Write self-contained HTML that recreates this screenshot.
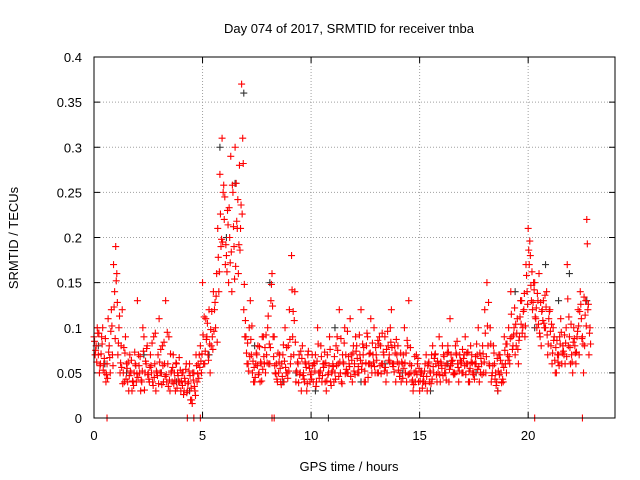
<!DOCTYPE html>
<html><head><meta charset="utf-8"><style>
body{margin:0;background:#fff;}
svg{display:block;font-family:"Liberation Sans",sans-serif;}
</style></head><body>
<svg id="chart" width="640" height="480" viewBox="0 0 640 480" xmlns="http://www.w3.org/2000/svg">
<rect width="640" height="480" fill="#fff"/>
<text x="349" y="33" font-size="13" text-anchor="middle">Day 074 of 2017, SRMTID for receiver tnba</text>
<text x="349" y="471" font-size="13" text-anchor="middle">GPS time / hours</text>
<text transform="translate(18,238) rotate(-90)" font-size="13" text-anchor="middle">SRMTID / TECUs</text>
<g id="grid"></g>
<g id="ticks"></g>
<g id="marks"></g>
<rect x="94" y="57" width="521" height="361" fill="none" stroke="#000" stroke-width="1"/>
</svg>
<script>
const xTicks=[0,5,10,15,20];
const yTicks=[0,0.05,0.1,0.15,0.2,0.25,0.3,0.35,0.4];
const yTickLabels=["0","0.05","0.1","0.15","0.2","0.25","0.3","0.35","0.4"];
const seriesA=[.09,.08,.07,.06,.10,.05,.06,.08,.12,.17,
.19,.07,.05,.12,.04,.06,.03,.05,.04,.06,
.13,.05,.04,.09,.06,.05,.07,.04,.06,.05,
.11,.05,.04,.13,.06,.03,.04,.05,.06,.04,
.03,.05,.04,.03,.06,.02,.05,.07,.06,.08,
.15,.06,.09,.12,.08,.14,.10,.21,.27,.31,
.22,.18,.15,.29,.25,.30,.21,.28,.37,.12,
.09,.06,.13,.05,.04,.07,.05,.06,.09,.05,
.10,.06,.16,.09,.06,.05,.04,.07,.10,.05,
.12,.18,.07,.04,.06,.05,.08,.04,.03,.06,
.05,.04,.07,.10,.05,.04,.06,.03,.05,.04,
.06,.05,.09,.12,.04,.06,.07,.05,.11,.04,
.06,.08,.05,.12,.07,.04,.09,.06,.05,.10,
.07,.05,.08,.06,.09,.05,.07,.12,.06,.04,
.08,.05,.06,.10,.04,.13,.05,.03,.04,.06,
.03,.05,.04,.07,.06,.05,.08,.07,.04,.09,
.06,.07,.05,.08,.11,.06,.05,.07,.04,.06,
.05,.09,.06,.04,.07,.05,.06,.10,.05,.08,
.12,.15,.06,.04,.08,.05,.03,.07,.06,.09,
.05,.10,.14,.08,.07,.11,.09,.13,.12,.17,
.21,.18,.12,.15,.10,.16,.08,.13,.10,.07,
.12,.06,.09,.05,.07,.11,.08,.06,.17,.09,
.07,.10,.06,.12,.14,.09,.08,.22,.07];
const seriesB=[.07,.10,.05,.09,.06,.04,.11,.05,.07,.14,
.16,.10,.08,.05,.09,.04,.07,.03,.05,.04,
.07,.03,.10,.05,.08,.04,.05,.09,.03,.07,
.05,.08,.06,.04,.09,.05,.07,.03,.05,.04,
.05,.03,.06,.04,.02,.05,.03,.04,.07,.05,
.06,.11,.07,.05,.09,.12,.16,.14,.19,.25,
.17,.23,.20,.14,.19,.26,.16,.21,.31,.09,
.06,.10,.07,.04,.06,.08,.04,.09,.06,.07,
.06,.13,.09,.05,.04,.07,.06,.04,.05,.08,
.06,.09,.14,.05,.07,.03,.05,.06,.07,.04,
.07,.06,.04,.05,.08,.06,.04,.07,.09,.05,
.04,.08,.06,.05,.07,.10,.05,.06,.07,.08,
.09,.05,.07,.06,.04,.08,.06,.11,.07,.05,
.05,.09,.06,.07,.04,.08,.10,.06,.08,.07,
.06,.04,.07,.05,.08,.06,.04,.05,.07,.04,
.05,.04,.06,.03,.04,.07,.05,.06,.05,.04,
.08,.05,.06,.04,.07,.05,.08,.06,.07,.05,
.07,.06,.04,.08,.05,.06,.07,.04,.06,.05,
.05,.08,.10,.05,.06,.04,.07,.05,.04,.06,
.07,.06,.09,.10,.08,.06,.13,.10,.09,.14,
.17,.13,.15,.11,.13,.09,.12,.10,.14,.11,
.08,.10,.05,.07,.09,.06,.07,.10,.08,.06,
.05,.08,.09,.07,.11,.05,.13,.12,.10];
const seriesC=[.085,.062,.094,.071,.053,.088,.044,.067,.102,.123,
.152,.083,.061,.038,.072,.055,.047,.064,.036,.058,
.045,.068,.052,.031,.077,.043,.058,.036,.094,.047,
.062,.037,.084,.048,.035,.071,.056,.042,.033,.067,
.041,.026,.054,.038,.047,.016,.035,.058,.044,.063,
.092,.074,.105,.082,.118,.096,.135,.178,.226,.195,
.245,.162,.233,.184,.212,.168,.242,.186,.226,.148,
.072,.052,.087,.063,.045,.058,.079,.041,.068,.092,
.113,.078,.124,.058,.043,.062,.037,.081,.056,.044,
.087,.142,.108,.052,.039,.074,.047,.062,.038,.055,
.043,.061,.035,.082,.052,.047,.073,.041,.058,.036,
.057,.043,.075,.062,.038,.083,.054,.068,.046,.072,
.048,.066,.092,.054,.078,.061,.045,.072,.083,.057,
.064,.082,.049,.073,.056,.096,.062,.078,.051,.087,
.053,.072,.044,.061,.086,.049,.058,.037,.052,.066,
.041,.033,.052,.046,.062,.038,.057,.071,.063,.048,
.055,.068,.042,.073,.058,.064,.049,.085,.052,.062,
.066,.048,.073,.055,.061,.043,.082,.057,.066,.071,
.094,.102,.058,.047,.072,.036,.052,.064,.043,.075,
.082,.068,.115,.092,.104,.076,.112,.094,.138,.158,
.186,.147,.128,.112,.138,.094,.118,.105,.123,.082,
.096,.072,.064,.086,.058,.095,.074,.083,.132,.078,
.062,.088,.073,.102,.126,.082,.114,.193,.094];
const seriesD=[.075,.094,.058,.082,.066,.048,.073,.096,.058,.088,
.128,.113,.056,.078,.043,.062,.052,.041,.073,.049,
.058,.042,.074,.063,.048,.056,.083,.045,.052,.038,
.076,.058,.046,.095,.042,.052,.038,.061,.047,.053,
.036,.044,.028,.052,.033,.042,.025,.049,.056,.071,
.112,.087,.064,.098,.076,.128,.084,.162,.198,.258,
.192,.214,.172,.258,.154,.218,.192,.236,.282,.108,
.083,.068,.102,.056,.072,.048,.062,.054,.078,.061,
.082,.148,.068,.049,.072,.055,.046,.063,.078,.052,
.068,.118,.084,.062,.048,.066,.043,.056,.074,.048,
.058,.052,.063,.044,.068,.056,.061,.048,.076,.052,
.068,.058,.046,.088,.062,.049,.096,.057,.064,.052,
.074,.057,.064,.082,.052,.094,.071,.058,.062,.078,
.086,.058,.094,.052,.076,.064,.084,.057,.072,.062,
.046,.062,.055,.072,.048,.078,.042,.068,.048,.055,
.052,.046,.038,.058,.052,.043,.066,.048,.058,.062,
.047,.058,.072,.054,.063,.048,.072,.056,.064,.076,
.058,.072,.052,.062,.048,.068,.054,.072,.048,.062,
.068,.128,.082,.058,.043,.066,.048,.039,.056,.082,
.064,.088,.076,.122,.094,.086,.104,.118,.102,.126,
.196,.162,.142,.122,.104,.128,.108,.136,.092,.118,
.104,.086,.078,.062,.082,.072,.092,.068,.112,.104,
.084,.072,.096,.118,.088,.134,.102,.126,.082];
const seriesStartHour=0, seriesStepHour=0.1;
const zeroTimes=[0.6,4.3,4.6,4.9,8.2,8.3,20.3,22.5];
const blackTimes=[0.2,0.5,1.5,2.3,3.1,3.8,4.4,5.3,5.8,6.1,6.5,6.9,7.4,8.1,8.7,9.3,10.2,10.8,11.1,12.3,13.4,14.2,15.5,16.3,17.6,18.6,19.4,20.3,20.8,21.4,21.9,22.7];
const blackValues=[.08,.06,.05,.07,.05,.04,.03,.07,.30,.20,.26,.36,.08,.15,.04,.05,.03,0,.10,.04,.06,.05,.03,.06,.05,.03,.14,.10,.17,.13,.16,.13];

const NS="http://www.w3.org/2000/svg";
const X0=94,X1=615,Y0=418,Y1=57,XMAX=24,YMAX=0.4;
const xs=t=>X0+(t/XMAX)*(X1-X0);
const ys=v=>Y0-(v/YMAX)*(Y0-Y1);
function mk(tag,attrs,parent){const e=document.createElementNS(NS,tag);for(const k in attrs)e.setAttribute(k,attrs[k]);parent.appendChild(e);return e;}
const grid=document.getElementById('grid'),ticks=document.getElementById('ticks'),marks=document.getElementById('marks');
xTicks.forEach(t=>{
  const x=xs(t);
  if(t>0){const g=mk('line',{x1:x,x2:x,y1:Y1,y2:Y0,stroke:'#a0a0a0','stroke-dasharray':'1,2'},grid);
  
  }
  const l=mk('text',{x:x,y:Y0+22,'font-size':13,'text-anchor':'middle'},ticks);l.textContent=String(t);
  
  
  mk('line',{x1:x,x2:x,y1:Y0,y2:Y0-6,stroke:'#000'},ticks);
  mk('line',{x1:x,x2:x,y1:Y1,y2:Y1+6,stroke:'#000'},ticks);
});
yTicks.forEach((v,i)=>{
  const y=ys(v);
  if(v>0&&v<YMAX){const g=mk('line',{x1:X0,x2:X1,y1:y,y2:y,stroke:'#a0a0a0','stroke-dasharray':'1,2'},grid);
  
  }
  const l=mk('text',{x:X0-12,y:y+5,'font-size':13,'text-anchor':'end'},ticks);l.textContent=yTickLabels[i];
  
  
  mk('line',{x1:X0,x2:X0+6,y1:y,y2:y,stroke:'#000'},ticks);
  mk('line',{x1:X1,x2:X1-6,y1:y,y2:y,stroke:'#000'},ticks);
});
function plus(t,v,color,name){
  const x=xs(t),y=ys(v);
  const p=mk('path',{d:`M${x-3.5},${y}h7M${x},${y-3.5}v7`,stroke:color,'stroke-width':1.1,fill:'none'},marks);
  
  
}
blackTimes.forEach((t,i)=>plus(t,blackValues[i],'#333','point-black'));
seriesA.forEach((v,i)=>plus(seriesStartHour+i*seriesStepHour,v,'#f00','point-red'));
seriesC.forEach((v,i)=>plus(seriesStartHour+(i+0.25)*seriesStepHour,v,'#f00','point-red'));
seriesB.forEach((v,i)=>plus(seriesStartHour+(i+0.5)*seriesStepHour,v,'#f00','point-red'));
seriesD.forEach((v,i)=>plus(seriesStartHour+(i+0.75)*seriesStepHour,v,'#f00','point-red'));
zeroTimes.forEach(t=>plus(t,0,'#f00','point-zero'));
</script>
</body></html>
